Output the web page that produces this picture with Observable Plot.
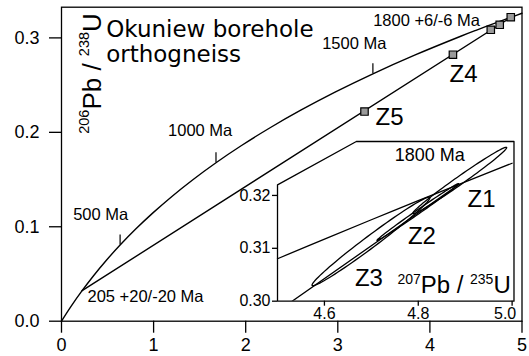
<!DOCTYPE html>
<html><head><meta charset="utf-8">
<script src="https://cdn.jsdelivr.net/npm/d3@7"></script>
<script src="https://cdn.jsdelivr.net/npm/@observablehq/plot@0.6"></script>
<style>
body{margin:0;background:#fff;}
#chart{position:relative;width:529px;height:356px;background:#fff;}
#chart svg{position:absolute;}
</style></head><body><div id="chart"></div>
<script>
// Concordia curve: age (Ma), 207Pb/235U, 206Pb/238U
const concAge = [0,100,205,300,400,500,600,700,800,900,1000,1100,1200,1300,1400,1500,1600,1700,1731,1750,1775,1800,1819.3];
const concX = [0,0.10350,0.22372,0.34374,0.48281,0.63628,0.80563,0.99251,1.19873,1.42630,1.67741,1.95452,2.26030,2.59774,2.97009,3.38099,3.83441,4.33477,4.5,4.60404,4.74373,4.88690,5.0];
const concY = [0,0.01563,0.03231,0.04764,0.06402,0.08065,0.09754,0.11470,0.13213,0.14983,0.16780,0.18606,0.20460,0.22343,0.24256,0.26199,0.28172,0.30175,0.30803,0.31189,0.31699,0.32210,0.32609];
const ageTickAges = [500, 1000, 1500];

// Discordia: lower intercept 205 Ma, upper intercept 1800 Ma
const discX = [0.2237, 4.8869];
const discY = [0.0323, 0.3221];

// Zircon fractions (squares in main plot)
const zirconNames = ["Z5","Z4","Z3","Z2","Z1"];
const zirconX = [3.290, 4.250, 4.661, 4.758, 4.878];
const zirconY = [0.2220, 0.2822, 0.3086, 0.3139, 0.3219];

// Error ellipses in inset: long-axis tips and minor half-axis
const ellNames = ["Z1","Z2","Z3"];
const ellX1 = [4.7885, 4.712, 4.5738];
const ellY1 = [0.31659, 0.31149, 0.30297];
const ellX2 = [4.9883, 4.886, 4.8246];
const ellY2 = [0.32908, 0.32223, 0.31963];
const ellMx = [0.0049, 0.0024, 0.0076];
const ellMy = [-0.00062, -0.00031, -0.00091];

// Main labels
const mainLabText = ["500 Ma","1000 Ma","1500 Ma","1800 +6/-6 Ma","205 +20/-20 Ma"];
const mainLabX = [0.127, 1.157, 2.830, 3.384, 0.282];
const mainLabY = [0.1130, 0.2019, 0.2940, 0.3184, 0.0254];
const zLabText = ["Z4","Z5"];
const zLabX = [4.213, 3.409];
const zLabY = [0.2617, 0.2157];
const titleText = "Okuniew borehole\northogneiss";

// Inset labels
const insLabText = ["Z1","Z2","Z3"];
const insLabX = [4.905, 4.778, 4.665];
const insLabY = [0.31924, 0.31224, 0.30439];
const insAgeText = "1800 Ma";
const insAgeX = 4.750, insAgeY = 0.32757;

const xTicks = [0,1,2,3,4,5];
const yTicks = [0,0.1,0.2,0.3];
const insXTicks = [4.6, 4.8, 5.0];
const insYTicks = [0.30, 0.31, 0.32];
// inset frame outline (with cut corner)
const insFrameX = [4.5, 4.5, 4.668, 5.004, 5.004, 4.5];
const insFrameY = [0.30, 0.3220, 0.3302, 0.3302, 0.30, 0.30];

const FONT = "'Liberation Sans', Arial, Helvetica, sans-serif";
const conc = concAge.map((a,i)=>({age:a, x:concX[i], y:concY[i]}));
const ageTicks = conc.filter(d=>ageTickAges.includes(d.age));
const disc = discX.map((x,i)=>({x, y:discY[i]}));
const zircons = zirconX.map((x,i)=>({name:zirconNames[i], x, y:zirconY[i]}));
const mainLabs = mainLabText.map((t,i)=>({t, x:mainLabX[i], y:mainLabY[i]}));
const zLabs = zLabText.map((t,i)=>({t, x:zLabX[i], y:zLabY[i]}));
const insLabs = insLabText.map((t,i)=>({t, x:insLabX[i], y:insLabY[i]}));
const insFrame = insFrameX.map((x,i)=>({x, y:insFrameY[i]}));
const ellPts = [];
ellNames.forEach((n,i)=>{
  const cx=(ellX1[i]+ellX2[i])/2, cy=(ellY1[i]+ellY2[i])/2;
  const ax=(ellX2[i]-ellX1[i])/2, ay=(ellY2[i]-ellY1[i])/2;
  for(let k=0;k<=96;k++){const t=2*Math.PI*k/96;
    ellPts.push({n, x:cx+Math.cos(t)*ax+Math.sin(t)*ellMx[i], y:cy+Math.cos(t)*ay+Math.sin(t)*ellMy[i]});}
});

const main = Plot.plot({
  width:529, height:356, marginLeft:61, marginRight:7.5, marginTop:6.7, marginBottom:35.3,
  x:{domain:[0,5]}, y:{domain:[0,0.3325]},
  style:{fontFamily:FONT, fontSize:"18px", background:"transparent", overflow:"visible", color:"black"},
  marks:[
    Plot.frame({stroke:"black", strokeWidth:1.3}),
    Plot.axisX({ticks:xTicks, tickSize:12, tickPadding:5, label:null, fontSize:18, strokeWidth:1.3, tickFormat:d=>String(d)}),
    Plot.axisY({ticks:yTicks, tickSize:12, tickPadding:10, label:null, fontSize:18, strokeWidth:1.3, tickFormat:d3.format(".1f")}),
    Plot.line(conc, {x:"x", y:"y", curve:"catmull-rom", stroke:"black", strokeWidth:1.4}),
    Plot.line(disc, {x:"x", y:"y", stroke:"black", strokeWidth:1.4}),
    Plot.ruleX(ageTicks, {x:"x", y1:"y", y2:d=>d.y+0.0105, stroke:"black", strokeWidth:1.2}),
    Plot.dot(zircons, {x:"x", y:"y", symbol:"square", r:4.2, fill:"#9a9a9a", stroke:"black", strokeWidth:1.2}),
    Plot.text(mainLabs, {x:"x", y:"y", text:"t", textAnchor:"start", lineAnchor:"middle", fontSize:16.5, fill:"black"}),
    Plot.text(zLabs, {x:"x", y:"y", text:"t", textAnchor:"start", lineAnchor:"middle", fontSize:24, fill:"black"}),
    Plot.text([titleText], {x:()=>0.485, y:()=>0.3194, text:d=>d, textAnchor:"start", lineAnchor:"top", lineHeight:1.07, fontSize:23, fontFamily:"'DejaVu Sans', sans-serif", fill:"black"}),
    Plot.text(["Pb / U"], {x:()=>0.4235, y:()=>0.2623, text:d=>d, rotate:-90, textAnchor:"middle", lineAnchor:"bottom", fontSize:26, fill:"black", className:"ylab"})
  ]
});

const inset = Plot.plot({
  width:286, height:183.7, marginLeft:45, marginRight:4.5, marginTop:2, marginBottom:22,
  x:{domain:[4.5,5.004]}, y:{domain:[0.30,0.3302]},
  style:{fontFamily:FONT, fontSize:"16px", background:"transparent", overflow:"visible", color:"black"},
  marks:[
    Plot.line(insFrame, {x:"x", y:"y", stroke:"black", strokeWidth:1.3}),
    Plot.axisX({ticks:insXTicks, tickSize:5, tickPadding:1, label:null, fontSize:16, strokeWidth:1.3, tickFormat:d=> d>=4.99 ? "" : d.toFixed(1)}),
    Plot.axisX({ticks:[5.0], tickSize:0, tickPadding:6, dx:-7, label:null, fontSize:16, tickFormat:d=>d.toFixed(1)}),
    Plot.axisY({ticks:insYTicks, tickSize:5, tickPadding:2, label:null, fontSize:16, strokeWidth:1.3, tickFormat:d3.format(".2f")}),
    Plot.line(conc.filter(d=>d.x>=4.5), {x:"x", y:"y", curve:"catmull-rom", stroke:"black", strokeWidth:1.3}),
    Plot.line(disc, {x:"x", y:"y", stroke:"black", strokeWidth:1.3, clip:true}),
    Plot.line(ellPts, {x:"x", y:"y", z:"n", stroke:"black", strokeWidth:1.3, curve:"linear"}),
    Plot.text(insLabs, {x:"x", y:"y", text:"t", textAnchor:"start", lineAnchor:"middle", fontSize:24, fill:"black"}),
    Plot.text([insAgeText], {x:()=>insAgeX, y:()=>insAgeY, text:d=>d, textAnchor:"start", lineAnchor:"middle", fontSize:18, fill:"black"}),
    Plot.text(["Pb / U"], {x:()=>4.7555, y:()=>0.30151, text:d=>d, textAnchor:"start", lineAnchor:"bottom", fontSize:24, fill:"black", className:"xlab"})
  ]
});

const chart = document.getElementById("chart");
main.style.left="0px"; main.style.top="0px";
inset.style.left="232.1px"; inset.style.top="139px";
chart.appendChild(main);
chart.appendChild(inset);

function supLabel(svg, cls, parts, big, small, shift){
  const t = d3.select(svg).select("."+cls+" text");
  t.text(null);
  parts.forEach((p,i)=>{
    const sup = i%2===0;
    t.append("tspan").attr("font-size", sup?small:big).attr("dy", i===0 ? -shift : (sup ? -shift : shift)).text(p);
  });
}
supLabel(main, "ylab", ["206","Pb / ","238","U"], 26, 14.5, 12);
supLabel(inset, "xlab", ["207","Pb / ","235","U"], 24, 14, 9);
</script></body></html>
